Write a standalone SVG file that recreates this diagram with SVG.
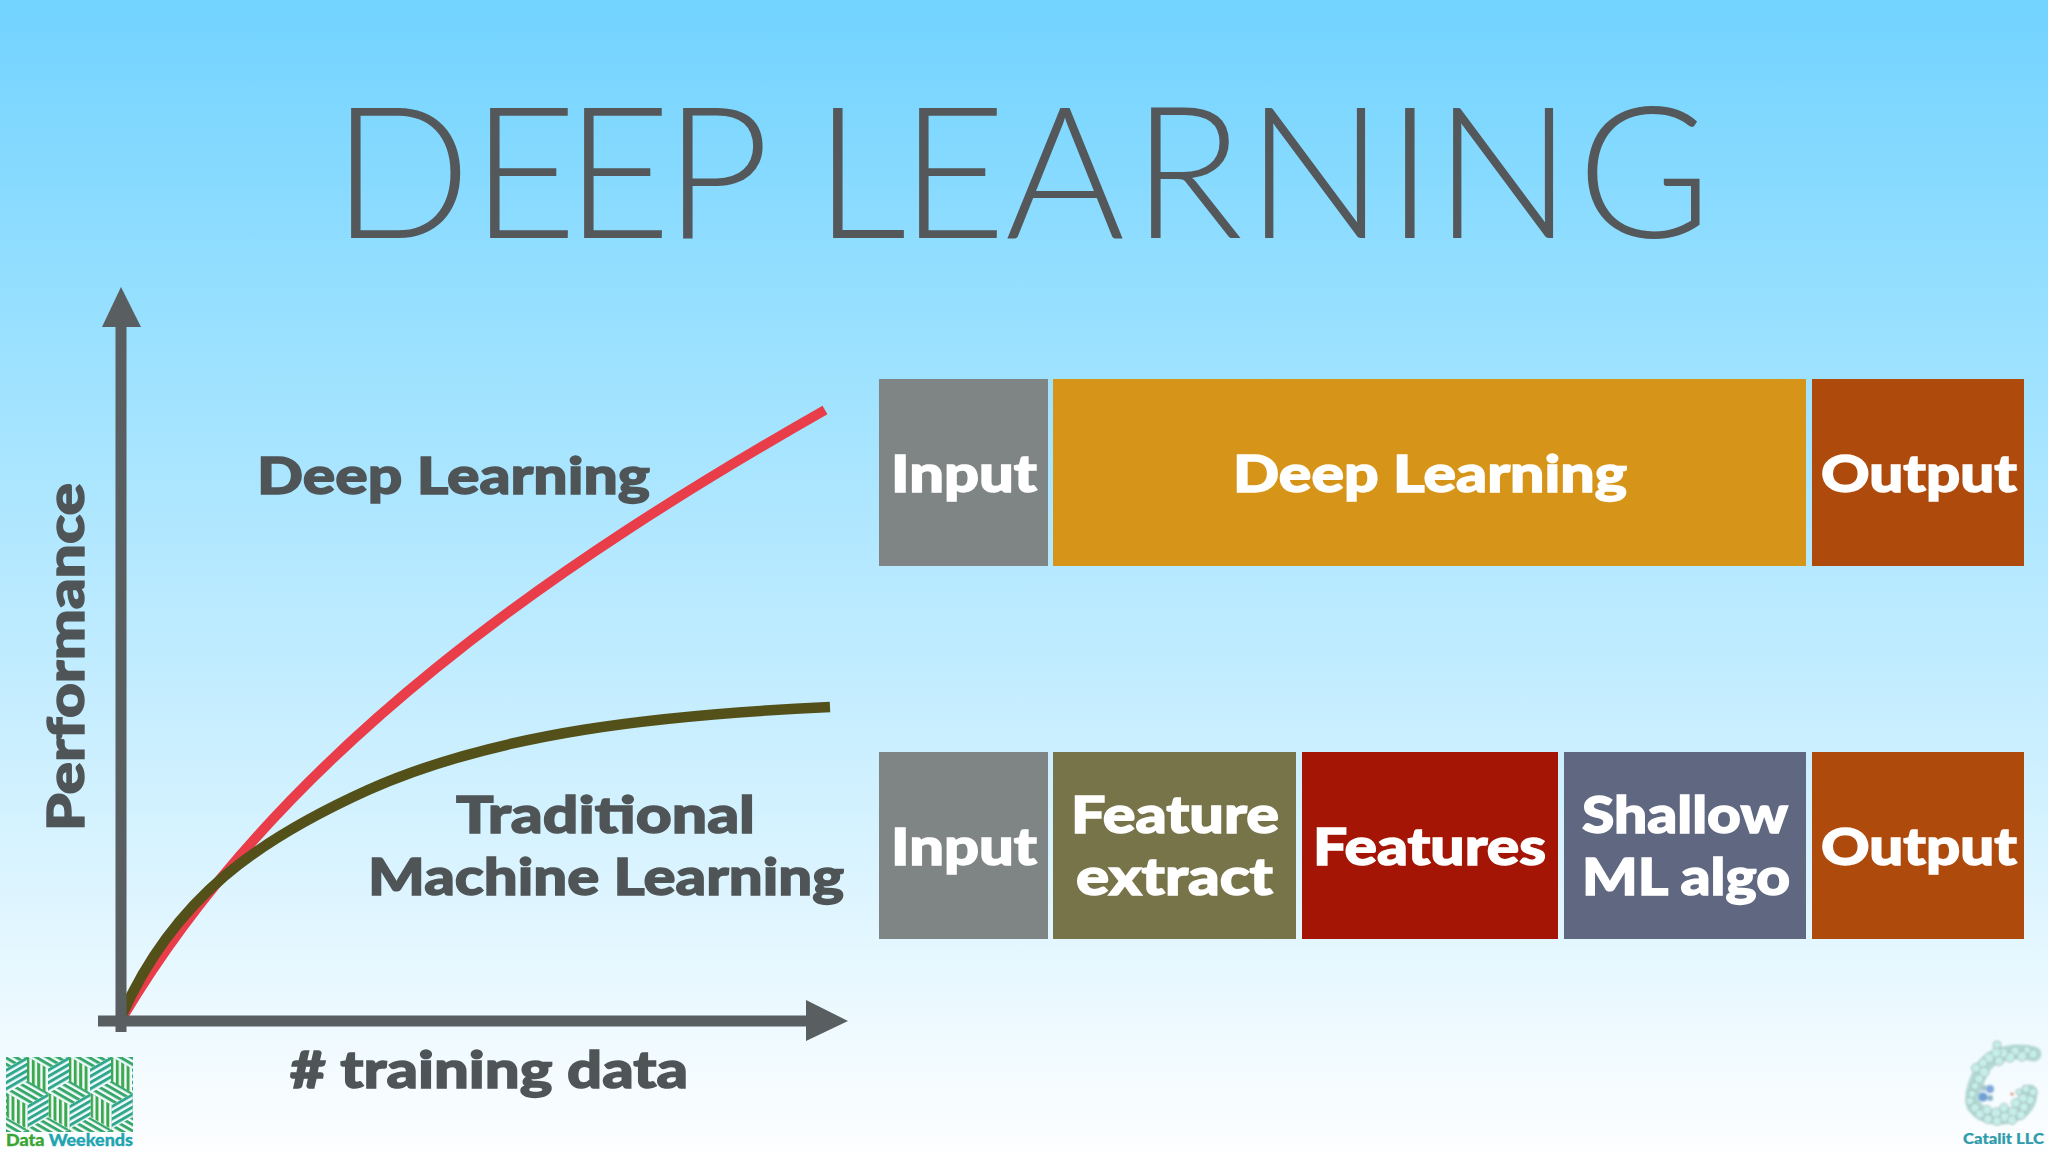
<svg xmlns="http://www.w3.org/2000/svg" xmlns:xlink="http://www.w3.org/1999/xlink" width="2048" height="1152" viewBox="0 0 2048 1152">
<style>
text{font-family:"Lato","Liberation Sans",sans-serif;font-weight:900}
.t{fill:#4f5557;stroke:#4f5557;stroke-width:1.4px;font-size:52px}
.w{fill:#fff;stroke:#fff;stroke-width:1.4px;font-size:52px}
.axis{stroke:#595f60;stroke-width:11;fill:none}
.head{fill:#595f60}
.curve{fill:none;stroke-linecap:butt}
.atom{fill:#c6efe9;stroke:#a3bdbb;stroke-width:1}
</style>
<defs>
<linearGradient id="bg" x1="0" y1="0" x2="0" y2="1">
<stop offset="0" stop-color="#72d3ff"/><stop offset="0.3" stop-color="#9be1ff"/><stop offset="0.6" stop-color="#c4edff"/><stop offset="0.85" stop-color="#e8f8ff"/><stop offset="1" stop-color="#fdfeff"/>
</linearGradient>
<pattern id="sv" patternUnits="userSpaceOnUse" width="5.4" height="5.4"><rect width="3" height="5.4" fill="#3ca94f"/></pattern>
<pattern id="sr" patternUnits="userSpaceOnUse" width="5.4" height="5.4" patternTransform="rotate(-30)"><rect width="5.4" height="3" fill="#2ea78c"/></pattern>
<pattern id="sf" patternUnits="userSpaceOnUse" width="5.4" height="5.4" patternTransform="rotate(30)"><rect width="5.4" height="3" fill="#37a86a"/></pattern>
<g id="cube">
<polygon points="0,-24.2 21,-12.1 0,0 -21,-12.1" fill="url(#sf)"/>
<polygon points="-21,-12.1 0,0 0,24.2 -21,12.1" fill="url(#sv)"/>
<polygon points="21,-12.1 21,12.1 0,24.2 0,0" fill="url(#sr)"/>
</g>
<clipPath id="logoClip"><rect x="6" y="1057" width="127" height="75"/></clipPath>
<filter id="soft" x="-10%" y="-10%" width="120%" height="120%"><feGaussianBlur stdDeviation="0.8"/></filter>
</defs>
<rect id="background" width="2048" height="1152" fill="url(#bg)"/>
<g id="title"><text x="332 471 565 664 760 814 900 1005 1132 1246 1386 1434 1577" y="238" style="font-weight:300;font-size:183px;fill:#54585a">DEEP LEARNING</text></g>

<g id="connectors">
<path class="curve" d="M121 1020C281 748 565 558 825 410" stroke="#e93d4a" stroke-width="10"/>
<path class="curve" d="M122 1015C175 895 262 838 368 790C498 732 660 715 830 707" stroke="#54501a" stroke-width="10.5"/>
<path class="axis" d="M121 1032V320"/>
<path class="head" d="M121 287L141 327H102Z"/>
<path class="axis" d="M98 1021H815"/>
<path class="head" d="M848 1021L806 1000V1041Z"/>
</g>

<g id="chart-labels">
<text class="t" x="257" y="494" textLength="393" lengthAdjust="spacingAndGlyphs">Deep Learning</text>
<text class="t" x="456" y="833" textLength="299" lengthAdjust="spacingAndGlyphs">Traditional</text>
<text class="t" x="368" y="895" textLength="476" lengthAdjust="spacingAndGlyphs">Machine Learning</text>
<text class="t" x="290" y="1088" textLength="398" lengthAdjust="spacingAndGlyphs"># training data</text>
<text class="t" transform="translate(84 831) rotate(-90)" textLength="348" lengthAdjust="spacingAndGlyphs">Performance</text>
</g>

<g id="dl-input"><rect x="879" y="379" width="169" height="187" fill="#7f8585"/><text class="w" x="891" y="492" textLength="146" lengthAdjust="spacingAndGlyphs">Input</text></g>
<g id="dl-deep-learning"><rect x="1053" y="379" width="753" height="187" fill="#d69518"/><text class="w" x="1233" y="492" textLength="394" lengthAdjust="spacingAndGlyphs">Deep Learning</text></g>
<g id="dl-output"><rect x="1812" y="379" width="212" height="187" fill="#ae4a0b"/><text class="w" x="1821" y="492" textLength="196" lengthAdjust="spacingAndGlyphs">Output</text></g>

<g id="ml-input"><rect x="879" y="752" width="169" height="187" fill="#7f8585"/><text class="w" x="891" y="865" textLength="146" lengthAdjust="spacingAndGlyphs">Input</text></g>
<g id="ml-feature-extract"><rect x="1053" y="752" width="243" height="187" fill="#78744a"/><text class="w" x="1071" y="833" textLength="208" lengthAdjust="spacingAndGlyphs">Feature</text><text class="w" x="1076" y="895" textLength="197" lengthAdjust="spacingAndGlyphs">extract</text></g>
<g id="ml-features"><rect x="1302" y="752" width="256" height="187" fill="#a51505"/><text class="w" x="1313" y="865" textLength="233" lengthAdjust="spacingAndGlyphs">Features</text></g>
<g id="ml-shallow"><rect x="1564" y="752" width="242" height="187" fill="#5f6880"/><text class="w" x="1582" y="833" textLength="206" lengthAdjust="spacingAndGlyphs">Shallow</text><text class="w" x="1582" y="895" textLength="208" lengthAdjust="spacingAndGlyphs">ML algo</text></g>
<g id="ml-output"><rect x="1812" y="752" width="212" height="187" fill="#ae4a0b"/><text class="w" x="1821" y="865" textLength="196" lengthAdjust="spacingAndGlyphs">Output</text></g>

<g id="logo-data-weekends">
<g clip-path="url(#logoClip)">
<use xlink:href="#cube" href="#cube" x="6" y="1068.6"/><use xlink:href="#cube" href="#cube" x="48" y="1068.6"/><use xlink:href="#cube" href="#cube" x="90" y="1068.6"/><use xlink:href="#cube" href="#cube" x="132" y="1068.6"/>
<use xlink:href="#cube" href="#cube" x="-14" y="1105"/><use xlink:href="#cube" href="#cube" x="27.7" y="1105"/><use xlink:href="#cube" href="#cube" x="69.7" y="1105"/><use xlink:href="#cube" href="#cube" x="111.7" y="1105"/><use xlink:href="#cube" href="#cube" x="153.7" y="1105"/>
<use xlink:href="#cube" href="#cube" x="6" y="1141.4"/><use xlink:href="#cube" href="#cube" x="48" y="1141.4"/><use xlink:href="#cube" href="#cube" x="90" y="1141.4"/><use xlink:href="#cube" href="#cube" x="132" y="1141.4"/>
</g>
<text x="6" y="1146" textLength="127" lengthAdjust="spacingAndGlyphs" style="font-size:16px;font-weight:900;fill:#1fa5b0;stroke:#1fa5b0;stroke-width:.3px"><tspan fill="#3aa535" stroke="#3aa535">Data</tspan> Weekends</text>
</g>

<g id="logo-catalit">
<g filter="url(#soft)">
<path d="M2034 1054C2018 1050 1995 1052 1984 1066C1976 1080 1970 1095 1974 1106C1984 1120 2005 1120 2020 1112C2028 1106 2030 1098 2030 1092" fill="none" stroke="#b3d9d4" stroke-width="15" stroke-linecap="round"/>
<circle class="atom" cx="2033" cy="1054" r="4.5"/><circle class="atom" cx="2027" cy="1050" r="4"/><circle class="atom" cx="2022" cy="1056" r="5"/><circle class="atom" cx="2015" cy="1051" r="4.5"/><circle class="atom" cx="2010" cy="1057" r="5"/><circle class="atom" cx="2003" cy="1053" r="5"/><circle class="atom" cx="1997" cy="1045" r="4"/><circle class="atom" cx="1996" cy="1053" r="5"/><circle class="atom" cx="1999" cy="1061" r="4.5"/><circle class="atom" cx="1989" cy="1058" r="5"/><circle class="atom" cx="1983" cy="1063" r="4.5"/><circle class="atom" cx="1976" cy="1068" r="4.5"/><circle class="atom" cx="1984" cy="1072" r="5"/><circle class="atom" cx="1979" cy="1079" r="4.5"/><circle class="atom" cx="1975" cy="1086" r="4"/><circle class="atom" cx="1972" cy="1094" r="4"/><circle class="atom" cx="1970" cy="1101" r="4"/><circle class="atom" cx="1975" cy="1108" r="4.5"/><circle class="atom" cx="1980" cy="1114" r="4.5"/><circle class="atom" cx="1987" cy="1110" r="4.5"/><circle class="atom" cx="1988" cy="1119" r="4.5"/><circle class="atom" cx="1996" cy="1113" r="5"/><circle class="atom" cx="1997" cy="1121" r="4.5"/><circle class="atom" cx="2005" cy="1117" r="5"/><circle class="atom" cx="2004" cy="1108" r="4.5"/><circle class="atom" cx="2013" cy="1112" r="5"/><circle class="atom" cx="2012" cy="1120" r="4.5"/><circle class="atom" cx="2021" cy="1115" r="4.5"/><circle class="atom" cx="2024" cy="1107" r="4.5"/><circle class="atom" cx="2016" cy="1103" r="4.5"/><circle class="atom" cx="2030" cy="1100" r="4.5"/><circle class="atom" cx="2023" cy="1098" r="4.5"/><circle class="atom" cx="2033" cy="1092" r="4"/><circle class="atom" cx="2026" cy="1089" r="4"/><circle class="atom" cx="2019" cy="1092" r="3"/>
<circle cx="1983" cy="1097" r="4.5" fill="#6f9fd6"/><circle cx="1990" cy="1089" r="4" fill="#7fa8dc"/><circle cx="1990" cy="1098" r="3" fill="#8fb7c8"/><circle cx="1984" cy="1088" r="3" fill="#a8c4cc"/><circle cx="2012" cy="1094" r="1.5" fill="#d8835f"/>
</g>
<text x="1963" y="1144" textLength="81" lengthAdjust="spacingAndGlyphs" style="font-size:15px;font-weight:900;fill:#2f9cad;stroke:#2f9cad;stroke-width:.2px">Catalit LLC</text>
</g>
</svg>
